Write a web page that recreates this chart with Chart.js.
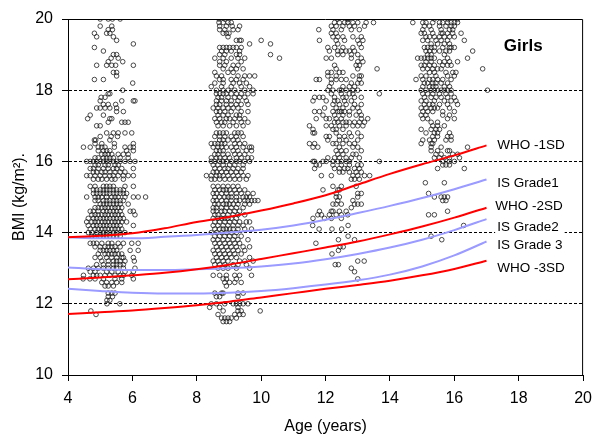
<!DOCTYPE html>
<html>
<head>
<meta charset="utf-8">
<script src="https://cdn.jsdelivr.net/npm/chart.js@4"></script>
<style>
  body { margin: 0; background: #fff; }
  canvas { display: block; }
</style>
</head>
<body>
<canvas id="bmiChart" width="600" height="447"></canvas>
<script>
// BMI for age, girls: measured children + reference cut-off curves

// Reference curves (BMI at each whole year of age)
const curveAges   = [4, 5, 6, 7, 8, 9, 10, 11, 12, 13, 14, 15, 16, 17];
const who1sd      = [13.87, 13.91, 13.98, 14.12, 14.30, 14.44, 14.62, 14.82, 15.05, 15.35, 15.65, 15.92, 16.17, 16.45];
const isGrade1    = [13.87, 13.84, 13.84, 13.88, 13.93, 14.00, 14.08, 14.20, 14.36, 14.55, 14.75, 14.97, 15.22, 15.49];
const who2sd      = [12.69, 12.74, 12.80, 12.87, 12.97, 13.10, 13.26, 13.42, 13.58, 13.75, 13.95, 14.17, 14.42, 14.70];
const isGrade2    = [13.02, 12.97, 12.95, 12.95, 12.97, 13.00, 13.05, 13.13, 13.25, 13.40, 13.58, 13.80, 14.07, 14.38];
const isGrade3    = [12.42, 12.36, 12.31, 12.29, 12.29, 12.31, 12.36, 12.44, 12.54, 12.66, 12.82, 13.05, 13.36, 13.75];
const who3sd      = [11.71, 11.76, 11.81, 11.88, 11.96, 12.06, 12.18, 12.30, 12.42, 12.53, 12.65, 12.80, 12.98, 13.21];

// Curve labels: text, label age, label BMI
const curveLabels = [
  ['WHO -1SD',   17.33, 16.46],
  ['IS Grade1',  17.33, 15.39],
  ['WHO -2SD',   17.27, 14.75],
  ['IS Grade2',  17.33, 14.16],
  ['IS Grade 3', 17.33, 13.65],
  ['WHO -3SD',   17.33, 13.00]
];

// Measured girls, one row per BMI value: [bmi, age, age, ...]
const group5 = [
  [20.0, 5.0, 5.25, 5.38, 5.62],
  [19.8, 5.0, 5.36],
  [19.7, 5.25, 5.38],
  [19.6, 4.82, 5.2, 5.3],
  [19.5, 4.89, 5.41],
  [19.4, 5.51],
  [19.3, 6.03],
  [19.2, 4.82],
  [19.1, 5.1],
  [19.0, 5.41, 5.51],
  [18.9, 5.34, 5.56],
  [18.8, 5.25, 5.7],
  [18.7, 4.89, 5.2, 5.36, 5.48, 6.03],
  [18.5, 5.41, 5.51],
  [18.4, 5.51],
  [18.3, 4.82, 5.1],
  [18.2, 6.01],
  [18.0, 5.7],
  [17.9, 5.25, 5.3],
  [17.8, 5.03, 5.15],
  [17.7, 5.0, 5.67, 6.03, 6.08],
  [17.6, 5.1, 5.25, 5.48],
  [17.5, 4.89, 5.0, 5.15, 5.3, 5.51],
  [17.4, 5.51, 5.72],
  [17.3, 4.69, 5.1],
  [17.2, 4.61, 5.3, 5.36],
  [17.1, 5.25, 5.67, 5.77, 5.87],
  [17.0, 4.89, 5.0],
  [16.8, 5.2, 5.41, 5.56, 5.77, 5.98],
  [16.7, 5.0, 5.34, 5.54],
  [16.6, 4.82, 4.86, 5.3],
  [16.5, 4.84, 5.05, 5.44, 6.03],
  [16.4, 4.48, 4.69, 4.94, 5.05, 5.15, 5.44, 5.77, 5.93, 6.03],
  [16.3, 4.94, 5.1, 5.2, 5.3, 5.82, 6.03],
  [16.2, 5.05, 5.15, 5.25, 5.36, 5.56, 5.72, 5.87],
  [16.1, 4.84, 4.94, 5.1, 5.2, 5.3, 5.41, 5.62, 5.87],
  [16.0, 4.58, 4.69, 4.79, 4.89, 5.0, 5.1, 5.2, 5.3, 5.41, 5.51, 5.62, 5.77, 5.93, 6.08],
  [15.9, 4.84, 4.94, 5.15, 5.25, 5.46, 5.56],
  [15.8, 4.69, 4.79, 4.94, 5.1, 5.25, 5.41, 5.51, 5.67, 6.03],
  [15.7, 4.79, 4.89, 5.05, 5.15, 5.3, 5.46, 5.62, 5.77],
  [15.6, 4.58, 4.69, 4.84, 5.0, 5.15, 5.3, 5.41, 5.56, 5.72, 5.87, 6.03],
  [15.5, 4.79, 4.94, 5.05, 5.2, 5.36, 5.46, 5.72],
  [15.3, 4.69, 4.84, 5.1, 5.2, 5.3, 5.41, 5.77, 6.03],
  [15.2, 4.79, 4.89, 5.0, 5.1, 5.2, 5.3, 5.41, 5.51, 5.62, 5.72],
  [15.1, 4.79, 4.89, 5.0, 5.1, 5.2, 5.3, 5.41, 5.51, 5.62, 5.72, 5.82],
  [15.0, 4.58, 4.84, 4.94, 5.05, 5.2, 5.36, 5.46, 5.56, 5.77, 6.03, 6.18, 6.41],
  [14.9, 4.84, 4.94, 5.1, 5.2, 5.3, 5.41, 5.51, 5.62, 5.72],
  [14.8, 5.0, 5.1, 5.2, 5.3, 5.41, 5.51, 5.62, 5.87],
  [14.7, 4.84, 4.94, 5.05, 5.15, 5.25, 5.36, 5.46, 5.56, 5.67],
  [14.6, 4.69, 4.79, 4.94, 5.1, 5.2, 5.3, 5.41, 5.51, 5.62, 5.93, 6.03],
  [14.5, 4.74, 4.84, 4.94, 5.05, 5.15, 5.25, 5.36, 5.46, 5.56, 5.67, 6.08],
  [14.4, 4.63, 4.79, 4.89, 5.0, 5.1, 5.2, 5.3, 5.41, 5.51, 5.62, 5.72],
  [14.3, 4.58, 4.74, 4.84, 4.94, 5.05, 5.15, 5.25, 5.36, 5.46, 5.56, 5.67, 5.82],
  [14.2, 4.63, 4.79, 4.89, 5.0, 5.1, 5.2, 5.3, 5.41, 5.51, 5.62, 6.03],
  [14.1, 4.69, 4.84, 4.94, 5.05, 5.15, 5.25, 5.36, 5.46, 5.56, 5.67],
  [14.0, 4.63, 4.74, 4.89, 5.0, 5.1, 5.2, 5.3, 5.41, 5.51, 5.62, 5.77],
  [13.9, 4.74, 4.84, 5.0, 5.1, 5.2, 5.3, 5.41, 5.51, 5.62],
  [13.7, 4.69, 4.79, 4.89, 5.05, 5.25, 5.36, 5.56, 5.72, 5.98, 6.18],
  [13.6, 4.84, 5.0, 5.15, 5.25, 5.36, 5.46, 5.62],
  [13.5, 5.0, 5.1, 5.2, 5.3, 5.41, 5.51, 5.93, 6.18],
  [13.4, 4.94, 5.15, 5.25, 5.36, 5.46, 5.56, 5.67],
  [13.3, 4.84, 5.0, 5.2, 5.36, 5.51, 5.67, 5.72, 6.03],
  [13.2, 5.05, 5.25, 5.41, 5.51, 5.62, 5.77, 6.06],
  [13.1, 4.89, 5.1, 5.25, 5.41, 5.51, 5.62, 5.72],
  [13.0, 4.63, 4.79, 4.94, 5.1, 5.25, 5.41, 5.51, 5.72, 6.08],
  [12.9, 4.69, 4.84, 5.2, 5.36, 5.56, 5.77, 6.03],
  [12.8, 4.48, 4.79, 4.89, 5.0, 5.15, 5.3, 5.46, 5.62, 5.72, 5.98],
  [12.7, 4.47, 4.68, 4.84, 5.1, 5.46, 5.67, 6.03],
  [12.6, 5.05, 5.2, 5.36, 5.51, 5.67],
  [12.5, 5.15, 5.25, 5.41],
  [12.3, 5.25, 5.36, 5.46],
  [12.2, 5.25, 5.38],
  [12.1, 5.21, 5.3],
  [12.0, 5.21, 5.61],
  [11.8, 4.71],
  [11.7, 4.87]
];

const group9 = [
  [20.0, 8.69, 8.87],
  [19.9, 8.69, 8.82, 8.97, 9.07],
  [19.8, 8.71, 8.92, 9.1, 9.33],
  [19.7, 8.71, 8.87, 9.13, 9.28],
  [19.6, 8.82, 8.92, 9.0],
  [19.5, 8.97],
  [19.4, 9.23, 9.33, 9.38, 10.0],
  [19.3, 9.64, 10.29],
  [19.2, 8.71, 8.82, 8.92, 9.02, 9.13, 9.23, 9.38],
  [19.1, 8.77, 8.92, 9.07, 9.33],
  [19.0, 8.71, 8.87, 9.23, 9.33, 10.29],
  [18.9, 8.56, 8.82, 9.07, 9.28, 9.49, 10.57],
  [18.8, 8.71, 8.92, 9.38],
  [18.7, 8.71, 8.87, 9.13, 9.28],
  [18.6, 8.82, 9.07, 9.23, 9.44],
  [18.5, 8.56, 8.97, 9.13],
  [18.4, 8.61, 8.77, 9.28, 9.49, 9.64, 9.8],
  [18.3, 8.71, 8.82, 9.07, 9.23, 9.44],
  [18.2, 8.56, 8.82, 9.13, 9.33, 9.54],
  [18.1, 8.45, 8.77, 9.07, 9.38, 9.64],
  [18.0, 8.61, 8.82, 8.97, 9.18, 9.49, 9.75],
  [17.9, 8.61, 8.71, 8.82, 8.92, 9.07, 9.23, 9.38, 9.59, 9.75],
  [17.8, 8.66, 8.77, 8.97, 9.18, 9.33, 9.49],
  [17.7, 8.61, 8.77, 8.92, 9.07, 9.28, 9.54],
  [17.6, 8.61, 8.71, 8.92, 9.07, 9.23, 9.38, 9.59],
  [17.5, 8.51, 8.66, 8.82, 8.97, 9.13, 9.28],
  [17.4, 8.61, 8.71, 8.87, 9.07, 9.38, 9.59],
  [17.3, 8.66, 8.82, 8.97, 9.23, 9.33],
  [17.2, 8.56, 8.71, 8.92, 9.02, 9.18, 9.33, 9.49],
  [17.1, 8.61, 8.77, 8.87, 9.13, 9.38, 9.59],
  [17.0, 8.66, 8.82, 9.02, 9.23, 9.44],
  [16.8, 8.61, 8.71, 8.82, 8.92, 9.18, 9.28, 9.38],
  [16.7, 8.56, 8.71, 8.87, 9.07, 9.23, 9.44],
  [16.6, 8.71, 8.82, 8.97, 9.13, 9.28],
  [16.5, 8.45, 8.56, 8.66, 8.77, 8.87, 9.18, 9.33, 9.49],
  [16.4, 8.51, 8.66, 8.77, 8.92, 9.07, 9.23, 9.44, 9.64, 9.7],
  [16.3, 8.61, 8.71, 8.82, 9.13, 9.28, 9.54, 9.7],
  [16.2, 8.56, 8.66, 8.82, 8.97, 9.18, 9.33, 9.49],
  [16.1, 8.45, 8.61, 8.71, 8.87, 9.02, 9.23, 9.38, 9.59, 9.7],
  [16.0, 8.45, 8.56, 8.71, 8.82, 8.92, 9.07, 9.23, 9.33, 9.49, 9.64],
  [15.9, 8.51, 8.66, 8.82, 9.02, 9.18, 9.44],
  [15.8, 8.56, 8.71, 8.87, 8.97, 9.13, 9.28, 9.44],
  [15.7, 8.51, 8.61, 8.77, 8.92, 9.07, 9.23, 9.38],
  [15.6, 8.3, 8.45, 8.61, 8.71, 8.82, 8.97, 9.13, 9.28, 9.44, 9.59],
  [15.5, 8.45, 8.56, 8.71, 8.87, 9.02, 9.18, 9.33, 9.54],
  [15.3, 8.51, 8.66, 8.82, 8.97, 9.13, 9.28],
  [15.2, 8.56, 8.71, 8.82, 8.92, 9.02, 9.18, 9.33, 9.49],
  [15.1, 8.51, 8.61, 8.77, 8.92, 9.07, 9.23, 9.38, 9.59, 9.75],
  [15.0, 8.56, 8.71, 8.87, 8.97, 9.07, 9.23, 9.44, 9.54, 9.64],
  [14.9, 8.51, 8.61, 8.77, 8.92, 9.07, 9.23, 9.33, 9.49, 9.59, 9.7, 9.8, 9.9],
  [14.8, 8.56, 8.66, 8.82, 8.92, 9.02, 9.13, 9.28, 9.49, 9.64],
  [14.7, 8.51, 8.61, 8.77, 8.92, 9.07, 9.23, 9.44],
  [14.6, 8.51, 8.61, 8.77, 8.87, 9.02, 9.18, 9.33],
  [14.5, 8.56, 8.66, 8.82, 8.97, 9.13, 9.28, 9.49],
  [14.4, 8.51, 8.66, 8.77, 8.87, 8.97, 9.07, 9.23],
  [14.3, 8.56, 8.71, 8.87, 9.02, 9.18, 9.33, 9.54, 9.64],
  [14.2, 8.51, 8.66, 8.82, 8.97, 9.13, 9.28, 9.44],
  [14.1, 8.56, 8.71, 8.82, 8.92, 9.02, 9.13, 9.28, 9.49, 9.7],
  [14.0, 8.45, 8.61, 8.77, 8.92, 9.07, 9.23],
  [13.9, 8.56, 8.71, 8.87, 9.02, 9.18, 9.38],
  [13.8, 8.51, 8.66, 8.82, 8.97, 9.13, 9.28, 9.59],
  [13.7, 8.56, 8.71, 8.87, 9.02, 9.18, 9.33],
  [13.6, 8.61, 8.77, 8.92, 9.07, 9.23, 9.44, 9.64],
  [13.5, 8.51, 8.66, 8.82, 8.97, 9.13, 9.28, 9.49],
  [13.4, 8.56, 8.71, 8.87, 9.02, 9.18, 9.38],
  [13.3, 8.61, 8.77, 8.92, 9.07, 9.23, 9.64],
  [13.2, 8.51, 8.66, 8.82, 8.97, 9.33, 9.49, 9.75],
  [13.1, 8.56, 8.71, 8.87, 9.13, 9.28, 9.54],
  [13.0, 8.66, 8.82, 8.97, 9.23, 9.64],
  [12.8, 8.51, 8.71, 8.92, 9.18, 9.33, 9.7],
  [12.7, 8.82, 8.92, 9.23],
  [12.6, 8.87, 9.02, 9.18, 9.38],
  [12.5, 8.92],
  [12.3, 8.56, 8.77, 8.82, 9.28, 9.44],
  [12.2, 8.61, 8.71, 9.28],
  [12.0, 8.45, 8.61, 8.87, 9.13, 9.23, 9.33, 9.44, 9.59],
  [11.9, 8.4, 8.71, 9.28],
  [11.8, 8.82, 9.28, 9.38, 9.97],
  [11.7, 8.66, 9.18, 9.33, 9.44],
  [11.6, 8.77, 8.87, 8.97, 9.07, 9.23],
  [11.5, 8.82, 8.92, 9.02]
];

const group12 = [
  [20.0, 12.38, 12.69, 12.72],
  [19.9, 12.28, 12.43, 12.59, 12.69, 12.85, 13.0, 13.26, 13.49],
  [19.8, 12.18, 12.33, 12.54, 12.74, 12.9, 13.21],
  [19.7, 11.79, 12.23, 12.49, 12.8, 13.05],
  [19.6, 12.18, 12.33],
  [19.5, 12.23, 12.38, 12.54, 12.85, 13.11],
  [19.4, 11.81, 12.33, 12.59, 13.0, 13.16],
  [19.3, 12.38, 13.05],
  [19.2, 12.07, 12.28, 12.54, 12.85, 13.11],
  [19.1, 12.12, 12.38, 12.49, 12.64, 12.74, 12.9],
  [19.0, 12.38, 12.54, 12.8, 13.0],
  [18.9, 12.02, 12.18, 12.8, 13.11],
  [18.8, 13.0, 13.16],
  [18.7, 12.28, 12.95, 13.05],
  [18.6, 12.33, 13.0, 13.6],
  [18.5, 12.07, 12.18, 12.43, 12.54],
  [18.4, 12.07, 12.33, 12.85, 13.05, 13.11],
  [18.3, 11.71, 11.81, 12.18, 12.33, 12.49, 12.64, 13.05],
  [18.2, 12.18, 12.8, 13.0, 13.11],
  [18.1, 12.12, 12.54, 12.74, 12.9],
  [18.0, 12.07, 12.23, 12.43, 12.49, 12.64, 12.85, 13.0],
  [17.9, 12.18, 12.49, 12.74, 12.85, 13.67],
  [17.8, 11.66, 11.81, 11.92, 12.28, 12.54, 12.64, 12.9, 13.11],
  [17.7, 11.61, 12.02, 12.28, 12.38, 12.59, 12.8],
  [17.6, 12.23, 12.43, 12.64, 12.9, 13.11],
  [17.5, 11.97, 12.33, 12.54, 12.85, 13.0],
  [17.4, 11.66, 11.81, 12.23, 12.38, 12.43, 12.49, 12.59, 12.74, 13.05],
  [17.3, 11.92, 12.28, 12.54, 12.74, 12.95, 13.11],
  [17.2, 11.71, 12.02, 12.12, 12.33, 12.49, 13.11, 13.31],
  [17.1, 12.28, 12.38, 12.54, 12.64, 12.74, 12.9, 13.05, 13.21],
  [17.0, 11.5, 12.02, 12.18, 12.43, 12.64, 12.85, 13.0, 13.16],
  [16.9, 11.61, 12.23, 12.33, 12.54],
  [16.8, 11.61, 11.66, 12.33, 12.74, 13.0],
  [16.7, 12.02, 12.12, 12.43, 12.59, 12.8, 13.11],
  [16.6, 12.07, 12.43, 12.64, 13.0],
  [16.5, 11.5, 11.66, 12.23, 12.33, 12.54, 12.74, 12.9],
  [16.4, 11.61, 11.76, 12.43, 12.85, 13.0],
  [16.3, 12.33, 12.49, 12.64, 13.11],
  [16.2, 12.38, 12.54, 12.85, 12.95],
  [16.1, 12.07, 12.28, 12.43, 12.64, 12.8, 13.05],
  [16.0, 11.61, 11.66, 11.92, 12.02, 12.23, 12.38, 12.49, 12.64, 12.74, 13.67],
  [15.9, 11.71, 11.81, 12.23, 12.49, 12.74, 13.0, 13.11],
  [15.8, 11.66, 12.28, 12.43, 12.59, 12.69, 12.9, 13.05],
  [15.7, 12.43, 12.54, 12.74, 12.95, 13.11],
  [15.6, 11.87, 12.18, 12.85, 13.0, 13.21, 13.37],
  [15.5, 12.8, 12.9, 13.05],
  [15.3, 12.23, 12.49, 12.95],
  [15.2, 11.92, 12.38, 12.43],
  [15.1, 12.33, 13.0, 13.11],
  [15.0, 12.33, 12.43, 13.0],
  [14.9, 12.38, 12.85],
  [14.8, 12.23, 12.33, 12.49, 12.9, 13.0, 13.11],
  [14.7, 12.8],
  [14.6, 11.81, 12.18, 12.23, 12.43, 12.64],
  [14.5, 11.76, 11.87, 12.12, 12.33, 12.49, 12.69],
  [14.4, 11.61, 11.97, 12.18, 12.49],
  [14.2, 11.6, 12.7],
  [14.1, 11.8, 12.2, 12.5],
  [13.9, 12.7],
  [13.8, 12.4, 12.9],
  [13.7, 11.7],
  [13.6, 12.45, 12.55],
  [13.5, 12.4],
  [13.4, 12.2],
  [13.2, 13.0, 13.2],
  [13.1, 12.3, 12.4],
  [13.0, 12.8],
  [12.9, 12.9],
  [12.7, 13.0]
];

const group15 = [
  [20.0, 15.38, 15.79, 16.1],
  [19.9, 14.71, 15.02, 15.12, 15.33, 15.54, 15.64, 15.79, 15.9, 16.0, 16.1],
  [19.8, 15.07, 15.23, 15.54, 15.74, 15.9, 16.0],
  [19.7, 15.02, 15.28, 15.59, 15.85, 15.95],
  [19.6, 14.97, 15.07, 15.33, 15.59, 15.64, 15.79, 15.95, 16.21],
  [19.5, 15.12, 15.23, 15.38, 15.54, 15.69, 15.85, 16.0],
  [19.4, 15.02, 15.17, 15.43, 15.59, 15.79, 16.31],
  [19.3, 15.28, 15.48, 15.69, 15.85],
  [19.2, 15.07, 15.17, 15.28, 15.38, 15.64, 15.85, 15.9, 16.0],
  [19.1, 15.12, 15.23, 15.38, 15.54, 15.74, 15.85, 16.57],
  [19.0, 15.17, 15.28, 15.69],
  [18.9, 14.86, 14.97, 15.07, 15.17, 15.28, 15.38, 15.79, 16.41],
  [18.8, 15.12, 15.28, 15.54, 15.69, 15.85, 16.1],
  [18.7, 14.97, 15.07, 15.23, 15.38, 15.64, 15.79, 15.9],
  [18.6, 15.02, 15.17, 15.33, 15.48, 15.59, 16.88],
  [18.5, 15.23, 15.38, 15.74, 15.95, 16.05],
  [18.4, 14.97, 15.12, 15.43, 15.79, 16.0],
  [18.3, 14.81, 15.02, 15.23, 15.33, 15.48, 15.64, 15.9],
  [18.2, 15.07, 15.17, 15.33, 15.43, 15.59, 15.79],
  [18.1, 15.02, 15.23, 15.33, 15.43, 15.69, 15.85],
  [18.0, 14.97, 15.12, 15.28, 15.38, 15.48, 15.59, 15.69, 15.79, 15.9, 17.03],
  [17.9, 15.02, 15.17, 15.33, 15.54, 15.74, 15.9],
  [17.8, 15.07, 15.28, 15.43, 15.59, 15.79, 16.0],
  [17.7, 14.97, 15.12, 15.38, 15.69, 15.9, 16.05],
  [17.6, 15.07, 15.23, 15.33, 15.54, 15.79, 16.1],
  [17.5, 14.97, 15.12, 15.28, 15.38, 15.48, 15.85],
  [17.4, 15.02, 15.17, 15.33, 15.64, 16.0],
  [17.3, 14.97, 15.12, 15.64, 15.85],
  [17.2, 15.02, 15.17, 15.79, 16.0],
  [17.1, 15.28, 15.48],
  [17.0, 15.33, 15.48, 15.69],
  [16.9, 14.97, 15.28, 15.43, 15.54],
  [16.8, 15.12, 15.38, 15.48, 15.85],
  [16.7, 15.33, 15.48, 15.79, 15.9],
  [16.6, 15.02, 15.23, 15.38, 15.74, 15.9],
  [16.5, 14.97, 15.28, 15.33],
  [16.4, 15.28, 15.59, 16.41],
  [16.3, 15.28, 15.48, 15.79, 15.85],
  [16.2, 15.43, 15.59, 15.95, 16.1],
  [16.1, 15.38, 15.54, 15.69, 15.85, 16.16],
  [16.0, 15.64, 15.85, 16.0],
  [15.9, 15.64, 15.74, 15.85],
  [15.8, 15.48, 16.31],
  [15.4, 15.1, 15.69],
  [15.1, 15.2],
  [15.0, 15.38, 15.59, 15.69, 15.79],
  [14.9, 15.64, 15.74],
  [14.6, 15.79],
  [14.5, 15.2, 15.38],
  [14.2, 16.29],
  [13.9, 15.28],
  [13.8, 15.61]
];

function toPoints(rows) {
  return rows.flatMap(([bmi, ...ages]) => ages.map(a => ({ x: a, y: bmi })));
}

function curve(values) {
  return curveAges.map((a, i) => ({ x: a, y: values[i] }));
}

const RED = '#ff0000';
const BLUE = '#9a9aff';

function lineSet(values, color) {
  return {
    data: curve(values),
    showLine: true,
    borderColor: color,
    borderWidth: 2,
    pointRadius: 0,
    fill: false,
    cubicInterpolationMode: 'monotone',
    order: 0
  };
}

function dotSet(rows) {
  return {
    data: toPoints(rows),
    pointStyle: 'circle',
    pointRadius: 2.3,
    borderWidth: 1,
    borderColor: 'rgba(30,30,30,0.8)',
    backgroundColor: 'rgba(0,0,0,0)',
    order: 1
  };
}

// frame on top/right + curve labels + "Girls"
const annotations = {
  id: 'annotations',
  afterDraw(chart) {
    const { ctx, chartArea: a, scales: { x, y } } = chart;
    ctx.save();
    ctx.strokeStyle = '#000';
    ctx.lineWidth = 1;
    ctx.beginPath();
    ctx.moveTo(a.left, a.top + 0.5);
    ctx.lineTo(a.right - 0.5, a.top + 0.5);
    ctx.lineTo(a.right - 0.5, a.bottom);
    ctx.stroke();

    ctx.font = '13.5px Arial, "Liberation Sans", sans-serif';
    ctx.textBaseline = 'middle';
    ctx.textAlign = 'left';
    curveLabels.forEach(([text, age, bmi]) => {
      const px = x.getPixelForValue(age);
      const py = y.getPixelForValue(bmi);
      const w = ctx.measureText(text).width;
      ctx.fillStyle = '#fff';
      ctx.fillRect(px - 2, py - 8, w + 8, 16);
      ctx.fillStyle = '#000';
      ctx.fillText(text, px, py);
    });

    ctx.font = 'bold 17px Arial, "Liberation Sans", sans-serif';
    ctx.textAlign = 'center';
    ctx.fillText('Girls', x.getPixelForValue(18.14), y.getPixelForValue(19.24));
    ctx.restore();
  }
};

const tickFont = { family: 'Arial, "Liberation Sans", sans-serif', size: 16 };

new Chart(document.getElementById('bmiChart'), {
  type: 'scatter',
  data: {
    datasets: [
      lineSet(who1sd, RED),
      lineSet(isGrade1, BLUE),
      lineSet(who2sd, RED),
      lineSet(isGrade2, BLUE),
      lineSet(isGrade3, BLUE),
      lineSet(who3sd, RED),
      dotSet(group5),
      dotSet(group9),
      dotSet(group12),
      dotSet(group15)
    ]
  },
  options: {
    responsive: false,
    animation: false,
    layout: { padding: { left: 0, top: 19, right: 16, bottom: 0 } },
    plugins: {
      legend: { display: false },
      tooltip: { enabled: false }
    },
    scales: {
      x: {
        type: 'linear',
        min: 4,
        max: 20,
        ticks: { stepSize: 2, color: '#000', font: tickFont, padding: 8 },
        grid: { drawOnChartArea: false, tickLength: 6, tickColor: '#000' },
        border: { color: '#000', width: 1 },
        title: { display: true, text: 'Age (years)', color: '#000', font: tickFont, padding: { top: 0, bottom: 11 } },
        afterFit(scale) { scale.height = 72; }
      },
      y: {
        type: 'linear',
        min: 10,
        max: 20,
        ticks: { stepSize: 2, color: '#000', font: tickFont, padding: 9 },
        grid: {
          tickLength: 6,
          tickColor: '#000',
          lineWidth: 1,
          color: c => (c.tick && (c.tick.value === 10 || c.tick.value === 20)) ? 'rgba(0,0,0,0)' : '#000'
        },
        border: { color: '#000', width: 1, dash: [3, 2] },
        title: { display: true, text: 'BMI (kg/m²).', color: '#000', font: tickFont, padding: { top: 10, bottom: 0 } },
        afterFit(scale) { scale.width = 68; }
      }
    }
  },
  plugins: [annotations]
});
</script>
</body>
</html>
